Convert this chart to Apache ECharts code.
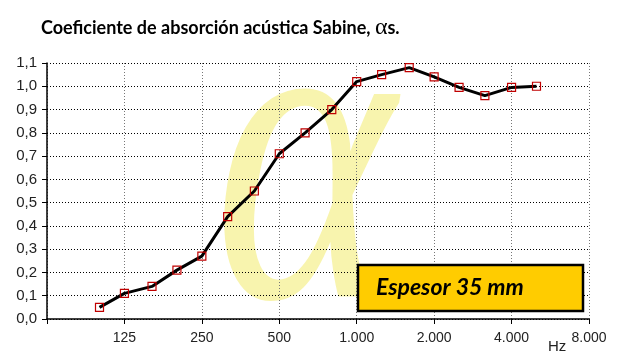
<!DOCTYPE html>
<html><head><meta charset="utf-8">
<script src="https://cdn.jsdelivr.net/npm/echarts@6/dist/echarts.min.js"></script>
<style>html,body{margin:0;padding:0;background:#fff}#c{width:622px;height:364px}</style>
</head><body><div id="c"></div>
<script>
var freqs = [100,125,160,200,250,315,400,500,630,800,1000,1250,1600,2000,2500,3150,4000,5000];
var alphaValues = [0.05,0.11,0.14,0.21,0.27,0.44,0.55,0.71,0.80,0.90,1.02,1.05,1.08,1.04,0.995,0.96,0.995,1.00];
var octaveBase = 62.5;
var xTickLabels = ['','125','250','500','1.000','2.000','4.000','8.000'];
var titleText = 'Coeficiente de absorción acústica Sabine, ';
var boxText = 'Espesor 35 mm';

var chart = echarts.init(document.getElementById('c'), null, {renderer:'canvas'});
// x positions in octaves above 62.5 Hz (logarithmic frequency axis)
var data = freqs.map(function(f,i){return [Math.log2(f/octaveBase), alphaValues[i]];});
chart.setOption({
  animation:false,
  grid:{left:47,right:33,top:63,bottom:45},
  xAxis:{type:'value',min:0,max:7,interval:1,
    axisLine:{lineStyle:{color:'#000',width:1.5}},
    axisTick:{show:true,length:5,lineStyle:{color:'#000'}},
    axisLabel:{fontFamily:'Liberation Sans',fontSize:14,color:'#222',margin:12,
      formatter:function(v){return xTickLabels[Math.round(v)]||'';}},
    splitLine:{show:true,lineStyle:{color:'#777',type:[1,2],width:1}}
  },
  yAxis:{type:'value',min:0,max:1.1,interval:0.1,
    axisLine:{show:true,lineStyle:{color:'#000',width:1.5}},
    axisTick:{show:true,length:5,lineStyle:{color:'#000'}},
    axisLabel:{fontFamily:'Liberation Sans',fontSize:15,color:'#222',margin:10,
      formatter:function(v){return v.toFixed(1).replace('.',',');}},
    splitLine:{show:true,lineStyle:{color:'#000',type:[1,2],width:1}}
  },
  graphic:[
    {type:'text',z:-10,silent:true,x:214,y:-40,scaleX:0.82,scaleY:1.05,
     style:{text:'α',font:'italic 420px "Liberation Serif"',fill:'rgba(243,236,120,0.6)'}},
    {type:'text',left:41,top:16,
     style:{rich:{a:{font:'bold 18px Lato',fill:'#000'},b:{font:'24px "Liberation Serif"',fill:'#000'},c:{font:'bold 18px Lato',fill:'#000'}},
       text:'{a|'+titleText+'}{b|α}{c|s.}'}},
    {type:'rect',shape:{x:358,y:265,width:225,height:46},style:{fill:'#FFCC00',stroke:'#000',lineWidth:2.5},z:10},
    {type:'text',x:376,y:288,z:11,style:{text:boxText,font:'italic bold 23px Lato',fill:'#000',textVerticalAlign:'middle'}},
    {type:'text',x:548,y:347,z:11,style:{text:'Hz',font:'15px "Liberation Sans"',fill:'#222',textVerticalAlign:'middle'}}
  ],
  series:[{type:'line',data:data,symbol:'rect',symbolSize:8,showAllSymbol:true,
    lineStyle:{color:'#000',width:3},
    itemStyle:{color:'rgba(255,255,255,0)',borderColor:'#c00000',borderWidth:1.2},z:5}]
});
</script></body></html>
